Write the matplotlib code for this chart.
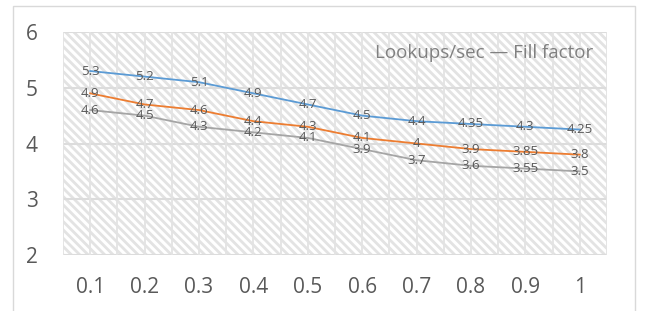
import matplotlib.pyplot as plt
from matplotlib.patches import Rectangle

plt.rcParams['font.family'] = ['Open Sans', 'DejaVu Sans']
plt.rcParams['hatch.color'] = '#e3e3e3'
plt.rcParams['hatch.linewidth'] = 2.0

# data
fill = ['0.1', '0.2', '0.3', '0.4', '0.5', '0.6', '0.7', '0.8', '0.9', '1']
blue = [5.3, 5.2, 5.1, 4.9, 4.7, 4.5, 4.4, 4.35, 4.3, 4.25]
orange = [4.9, 4.7, 4.6, 4.4, 4.3, 4.1, 4.0, 3.9, 3.85, 3.8]
gray = [4.6, 4.5, 4.3, 4.2, 4.1, 3.9, 3.7, 3.6, 3.55, 3.5]
title = 'Lookups/sec \u2014 Fill factor'

fig = plt.figure(figsize=(6.46, 3.11), dpi=100)
# outer chart border
fig.patches.append(Rectangle((13 / 646, -0.05), 622 / 646, 1.04 - 3 / 311,
                             transform=fig.transFigure, fill=False,
                             edgecolor='#d9d9d9', lw=1))
ax = fig.add_axes([63 / 646, 1 - 255 / 311, 544 / 646, 223 / 311])
ax.set_facecolor('white')

x = list(range(len(fill)))
ax.set_xlim(-0.5, len(fill) - 0.5)
ax.set_ylim(2, 6)

# hatched plot area
ax.add_patch(Rectangle((0, 0), 1, 1, transform=ax.transAxes, facecolor='white',
                       hatch='\\\\\\\\', edgecolor='#e3e3e3', lw=0, zorder=0))

# grid: horizontal at integers, vertical at centres and boundaries
for yv in [2, 3, 4, 5, 6]:
    ax.axhline(yv, color='#dcdcdc', lw=1.5, zorder=1)
for i in range(len(fill) * 2 + 1):
    ax.axvline(-0.5 + i * 0.5, color='#e3e3e3', lw=1.3, zorder=1)

colors = ['#5b9bd5', '#ed7d31', '#a5a5a5']
for ys, c in zip([blue, orange, gray], colors):
    ax.plot(x, ys, color=c, lw=1.3, zorder=3)
    for xi, yi in zip(x, ys):
        ax.text(xi, yi, f'{yi:g}', ha='center', va='center', fontsize=9.5,
                color='#595959', zorder=4)

ax.text(0.975, 0.905, title, transform=ax.transAxes, ha='right', va='center',
        fontsize=13.5, color='#808080', zorder=4)

for s in ax.spines.values():
    s.set_visible(False)
ax.set_xticks(x)
ax.set_xticklabels(fill)
ax.set_yticks([2, 3, 4, 5, 6])
ax.tick_params(length=0, labelsize=15, labelcolor='#595959')
ax.tick_params(axis='x', pad=16)
ax.tick_params(axis='y', pad=18)

fig.savefig('out.png', dpi=100)
